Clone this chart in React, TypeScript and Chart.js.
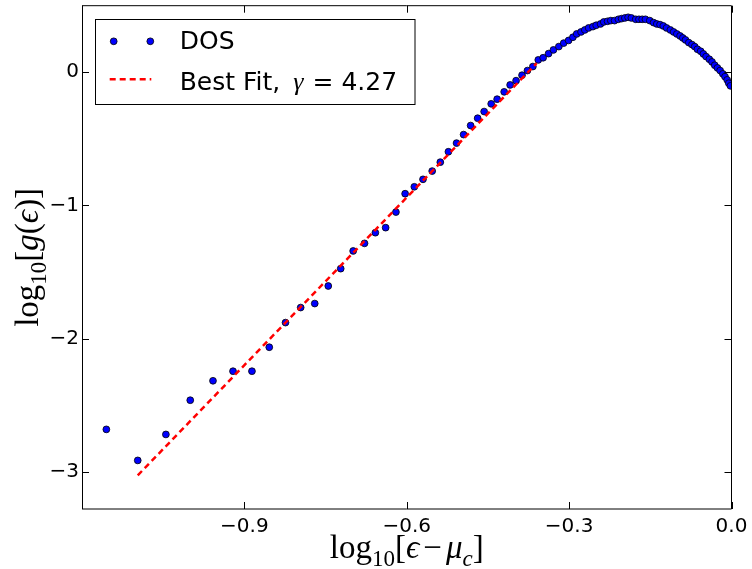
import React, { useEffect, useRef } from "react";
import { Chart, registerables } from "chart.js";

Chart.register(...registerables);

// ---- data ----
const dosX = [
  -1.155, -1.097, -1.045, -1.0, -0.958, -0.921, -0.886, -0.854,
  -0.824, -0.796, -0.77, -0.745, -0.722, -0.699, -0.678, -0.658, -0.639, -0.62,
  -0.603, -0.586, -0.57, -0.553, -0.538, -0.523, -0.508, -0.495, -0.482, -0.469,
  -0.457, -0.444, -0.433, -0.42, -0.409, -0.398, -0.387, -0.377, -0.367, -0.357,
  -0.348, -0.338, -0.329, -0.319, -0.31, -0.301, -0.293, -0.286, -0.278, -0.271,
  -0.264, -0.256, -0.25, -0.242, -0.236, -0.229, -0.223, -0.216, -0.209, -0.203,
  -0.197, -0.191, -0.185, -0.177, -0.171, -0.165, -0.159, -0.151, -0.144, -0.138,
  -0.132, -0.126, -0.12, -0.113, -0.107, -0.101, -0.095, -0.09, -0.085, -0.079,
  -0.073, -0.068, -0.063, -0.057, -0.052, -0.047, -0.041, -0.036, -0.031, -0.026,
  -0.021, -0.016, -0.012, -0.008, -0.005, -0.002,
];
const dosY = [
  -2.682, -2.915, -2.72, -2.463, -2.317, -2.245, -2.245, -2.065,
  -1.88, -1.767, -1.737, -1.605, -1.475, -1.342, -1.285, -1.205, -1.167, -1.05,
  -0.912, -0.86, -0.804, -0.742, -0.675, -0.597, -0.532, -0.468, -0.4, -0.345,
  -0.295, -0.237, -0.202, -0.147, -0.095, -0.063, -0.022, 0.013, 0.043, 0.093,
  0.109, 0.14, 0.168, 0.193, 0.219, 0.239, 0.263, 0.288, 0.303, 0.318,
  0.333, 0.343, 0.353, 0.363, 0.378, 0.383, 0.388, 0.388, 0.398, 0.403,
  0.408, 0.413, 0.408, 0.398, 0.398, 0.398, 0.398, 0.388, 0.373, 0.363,
  0.358, 0.348, 0.333, 0.318, 0.303, 0.288, 0.273, 0.258, 0.243, 0.223,
  0.208, 0.193, 0.173, 0.158, 0.138, 0.118, 0.098, 0.078, 0.053, 0.033,
  0.013, -0.012, -0.033, -0.057, -0.082, -0.102,
];
const fitX = [-1.097, -0.36];
const fitY = [-3.027, 0.068];
const xTicks = [-0.9, -0.6, -0.3, 0.0];
const yTicks = [-3, -2, -1, 0];
const xRange = [-1.2, 0.0];
const yRange = [-3.28, 0.5];
const dosLabel = "DOS";
const fitLabelPrefix = "Best Fit,";
const fitGamma = "4.27";

// ---- styles ----
const SERIF = '"Liberation Serif", "DejaVu Serif", serif';
const SANS = '"DejaVu Sans", sans-serif';
const MAIN = `33px ${SERIF}`;
const MAIN_I = `italic 33px ${SERIF}`;
const SUB = `23px ${SERIF}`;
const SUB_I = `italic 23px ${SERIF}`;
const TICK_LEN = 7;
const DOT_R = 3.4;

type Seg = { t: string; f: string; dy?: number; pl?: number; pr?: number };

function drawRich(ctx: CanvasRenderingContext2D, segs: Seg[], x: number, y: number) {
  let total = 0;
  for (const s of segs) {
    ctx.font = s.f;
    total += ctx.measureText(s.t).width + (s.pl || 0) + (s.pr || 0);
  }
  let cx = x - total / 2;
  ctx.textAlign = "left";
  ctx.textBaseline = "alphabetic";
  for (const s of segs) {
    ctx.font = s.f;
    cx += s.pl || 0;
    ctx.fillText(s.t, cx, y + (s.dy || 0));
    cx += ctx.measureText(s.t).width + (s.pr || 0);
  }
}

const fmtMinus = (s: string) => s.replace("-", "\u2212");

const framePlugin = {
  id: "frameAndDecor",
  afterDatasetsDraw(chart: any) {
    const ctx: CanvasRenderingContext2D = chart.ctx;
    const { left, right, top, bottom } = chart.chartArea;
    const xs = chart.scales.x;
    const ys = chart.scales.y;
    ctx.save();
    ctx.strokeStyle = "#000";
    ctx.lineWidth = 1;
    // frame
    ctx.beginPath();
    ctx.moveTo(left + 0.5, top);
    ctx.lineTo(left + 0.5, bottom);
    ctx.moveTo(right, top);
    ctx.lineTo(right, bottom);
    ctx.moveTo(left, top);
    ctx.lineTo(right, top);
    ctx.moveTo(left, bottom);
    ctx.lineTo(right, bottom);
    ctx.stroke();
    // inward ticks on all sides
    ctx.beginPath();
    for (const v of xTicks) {
      const px = Math.round(xs.getPixelForValue(v)) + 0.5;
      ctx.moveTo(px, bottom);
      ctx.lineTo(px, bottom - TICK_LEN);
      ctx.moveTo(px, top);
      ctx.lineTo(px, top + TICK_LEN);
    }
    for (const v of yTicks) {
      const py = Math.round(ys.getPixelForValue(v)) + 0.5;
      ctx.moveTo(left, py);
      ctx.lineTo(left + TICK_LEN, py);
      ctx.moveTo(right, py);
      ctx.lineTo(right - TICK_LEN, py);
    }
    ctx.stroke();

    // legend
    const lx = 95.5, ly = 19.5, lw = 319.5, lh = 85;
    ctx.fillStyle = "#fff";
    ctx.fillRect(lx, ly, lw, lh);
    ctx.strokeStyle = "#000";
    ctx.strokeRect(lx, ly, lw, lh);
    // DOS markers
    for (const mx of [113.7, 150.3]) {
      ctx.beginPath();
      ctx.arc(mx, 41.3, DOT_R, 0, Math.PI * 2);
      ctx.fillStyle = "#0000ff";
      ctx.fill();
      ctx.lineWidth = 0.8;
      ctx.strokeStyle = "#000";
      ctx.stroke();
    }
    // fit dashed line sample
    ctx.beginPath();
    ctx.setLineDash([6, 4]);
    ctx.lineWidth = 2.5;
    ctx.strokeStyle = "#ff0000";
    ctx.moveTo(109.7, 79.3);
    ctx.lineTo(151.3, 79.3);
    ctx.stroke();
    ctx.setLineDash([]);
    // legend texts
    ctx.fillStyle = "#000";
    ctx.textAlign = "left";
    ctx.textBaseline = "alphabetic";
    ctx.font = `25px ${SANS}`;
    ctx.fillText(dosLabel, 179.7, 49.3);
    let tx = 179.7;
    ctx.fillText(fitLabelPrefix, tx, 90);
    tx += ctx.measureText(fitLabelPrefix).width + 13;
    ctx.font = `italic 26px ${SERIF}`;
    ctx.fillText("\u03B3", tx, 90);
    tx += ctx.measureText("\u03B3").width + 9;
    ctx.font = `25px ${SANS}`;
    ctx.fillText("= " + fitGamma, tx, 90);

    // axis titles
    ctx.fillStyle = "#000";
    drawRich(
      ctx,
      [
        { t: "log", f: MAIN },
        { t: "10", f: SUB, dy: 8 },
        { t: "[", f: MAIN },
        { t: "\u03F5", f: MAIN_I },
        { t: "\u2212", f: MAIN, pl: 4, pr: 4 },
        { t: "\u03BC", f: MAIN_I },
        { t: "c", f: SUB_I, dy: 8 },
        { t: "]", f: MAIN },
      ],
      (left + right) / 2,
      558
    );
    ctx.save();
    ctx.translate(37.5, (top + bottom) / 2);
    ctx.rotate(-Math.PI / 2);
    drawRich(
      ctx,
      [
        { t: "log", f: MAIN },
        { t: "10", f: SUB, dy: 8 },
        { t: "[", f: MAIN },
        { t: "g", f: MAIN_I },
        { t: "(", f: MAIN },
        { t: "\u03F5", f: MAIN_I },
        { t: ")", f: MAIN },
        { t: "]", f: MAIN },
      ],
      0,
      0
    );
    ctx.restore();
    ctx.restore();
  },
};

export default function App() {
  const ref = useRef<HTMLCanvasElement | null>(null);

  useEffect(() => {
    if (!ref.current) return;
    const chart = new Chart(ref.current, {
      type: "scatter",
      data: {
        datasets: [
          {
            label: "Best Fit",
            data: fitX.map((x, i) => ({ x, y: fitY[i] })),
            showLine: true,
            borderColor: "#ff0000",
            borderWidth: 2.5,
            borderDash: [6, 4],
            pointRadius: 0,
            fill: false,
            order: 0,
          } as any,
          {
            label: dosLabel,
            data: dosX.map((x, i) => ({ x, y: dosY[i] })),
            pointRadius: DOT_R,
            pointBackgroundColor: "#0000ff",
            pointBorderColor: "#000",
            pointBorderWidth: 0.8,
            showLine: false,
            order: 1,
          } as any,
        ],
      },
      options: {
        animation: false,
        responsive: false,
        maintainAspectRatio: false,
        events: [],
        layout: { padding: { left: 0, top: 5.7, right: 20.5, bottom: 0 } },
        plugins: {
          legend: { display: false },
          tooltip: { enabled: false },
        },
        scales: {
          x: {
            type: "linear",
            min: xRange[0],
            max: xRange[1],
            afterBuildTicks: (s: any) => {
              s.ticks = xTicks.map((v) => ({ value: v }));
            },
            afterFit: (s: any) => {
              s.height = 60;
              s.paddingLeft = 0;
              s.paddingRight = 0;
            },
            grid: { display: false, drawTicks: false },
            border: { display: false },
            ticks: {
              padding: 6,
              color: "#000",
              font: { family: "DejaVu Sans", size: 20 },
              maxRotation: 0,
              autoSkip: false,
              callback: (v: any) => fmtMinus(Number(v).toFixed(1)),
            },
          },
          y: {
            type: "linear",
            min: yRange[0],
            max: yRange[1],
            afterBuildTicks: (s: any) => {
              s.ticks = yTicks.map((v) => ({ value: v }));
            },
            afterFit: (s: any) => {
              s.width = 82;
              s.paddingTop = 0;
              s.paddingBottom = 0;
            },
            grid: { display: false, drawTicks: false },
            border: { display: false },
            ticks: {
              padding: 3,
              color: "#000",
              font: { family: "DejaVu Sans", size: 20 },
              autoSkip: false,
              callback: (v: any) => fmtMinus(String(Number(v))),
            },
          },
        },
      } as any,
      plugins: [framePlugin],
    });
    return () => chart.destroy();
  }, []);

  return (
    <div style={{ position: "fixed", left: 0, top: 0, width: 752, height: 569, background: "#fff" }}>
      <canvas ref={ref} width={752} height={569} style={{ display: "block" }} />
    </div>
  );
}
